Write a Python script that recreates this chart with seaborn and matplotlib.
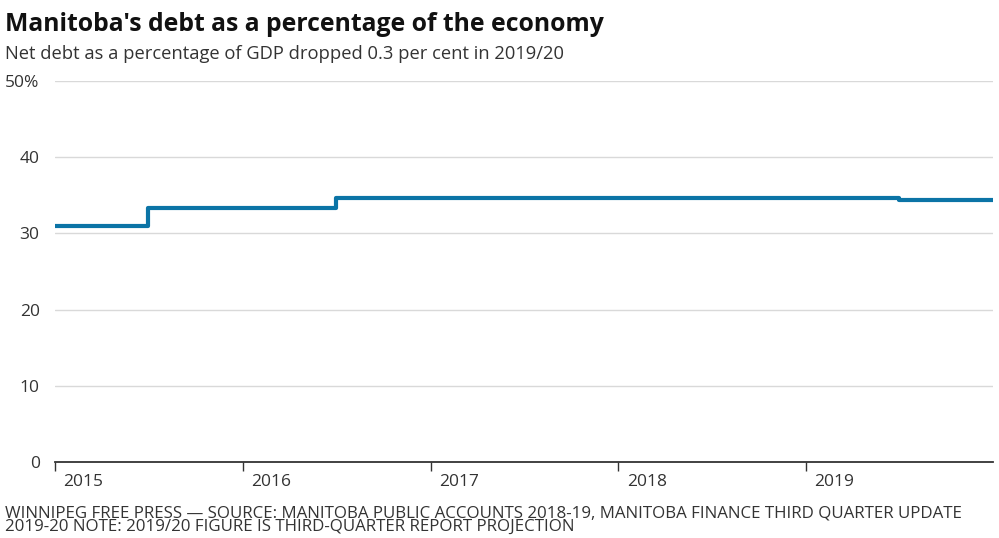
import numpy as np
import pandas as pd
import matplotlib.pyplot as plt
import matplotlib.dates as mdates
import matplotlib.transforms as mtransforms
import seaborn as sns

# fiscal-year figures, each one held from its start date until the next
period_starts = ["2015-01-01", "2015-07-01", "2016-07-01", "2017-07-01", "2018-07-01", "2019-07-01"]
period_end = "2019-12-31"
debt_pct = [31.0, 33.4, 34.6, 34.6, 34.7, 34.4]

year_ticks = ["2015", "2016", "2017", "2018", "2019"]
y_ticks = [0, 10, 20, 30, 40, 50]
y_labels = ["0", "10", "20", "30", "40", "50%"]

df = pd.DataFrame({
    "date": pd.to_datetime(period_starts + [period_end]),
    "pct": debt_pct + [debt_pct[-1]],
})

sns.set_theme(style="white")
plt.rcParams["font.family"] = ["Open Sans", "DejaVu Sans"]

fig = plt.figure(figsize=(9.99, 5.38), dpi=100)
ax = fig.add_axes([0.055, 0.1413, 0.939, 0.7081])

sns.lineplot(data=df, x="date", y="pct", ax=ax, color="#0b74a6", linewidth=3,
             drawstyle="steps-post", zorder=3)

ax.set_xlim(pd.Timestamp("2015-01-01"), pd.Timestamp(period_end))
ax.set_ylim(0, 50)

ax.set_yticks(y_ticks)
ax.set_yticklabels(y_labels)
ax.yaxis.grid(True, color="#d9d9d9", linewidth=1)
ax.tick_params(axis="y", length=0, pad=11, labelsize=12.5, labelcolor="#333333")

ax.set_xticks(pd.to_datetime([y + "-01-01" for y in year_ticks]))
ax.set_xticklabels(year_ticks)
ax.tick_params(axis="x", direction="out", length=6.5, width=1, color="#333333",
               pad=2, labelsize=12.5, labelcolor="#333333", bottom=True)
offset = mtransforms.ScaledTranslation(6 / 72, 0, fig.dpi_scale_trans)
for lab in ax.get_xticklabels():
    lab.set_horizontalalignment("left")
    lab.set_transform(lab.get_transform() + offset)

for side in ["top", "right", "left"]:
    ax.spines[side].set_visible(False)
ax.spines["bottom"].set_color("#333333")
ax.spines["bottom"].set_linewidth(1.3)
ax.set_xlabel("")
ax.set_ylabel("")

fig.text(0.005, 0.955, "Manitoba's debt as a percentage of the economy",
         fontsize=17.8, fontweight="bold", color="#111111", va="center")
fig.text(0.005, 0.9, "Net debt as a percentage of GDP dropped 0.3 per cent in 2019/20",
         fontsize=13.2, color="#333333", va="center")
fig.text(0.005, 1 - 505 / 538,
         "WINNIPEG FREE PRESS \u2014 SOURCE: MANITOBA PUBLIC ACCOUNTS 2018-19, MANITOBA FINANCE THIRD QUARTER UPDATE\n"
         "2019-20 NOTE: 2019/20 FIGURE IS THIRD-QUARTER REPORT PROJECTION",
         fontsize=12.2, color="#333333", va="top", linespacing=0.82)

fig.savefig("out.png", dpi=100)
